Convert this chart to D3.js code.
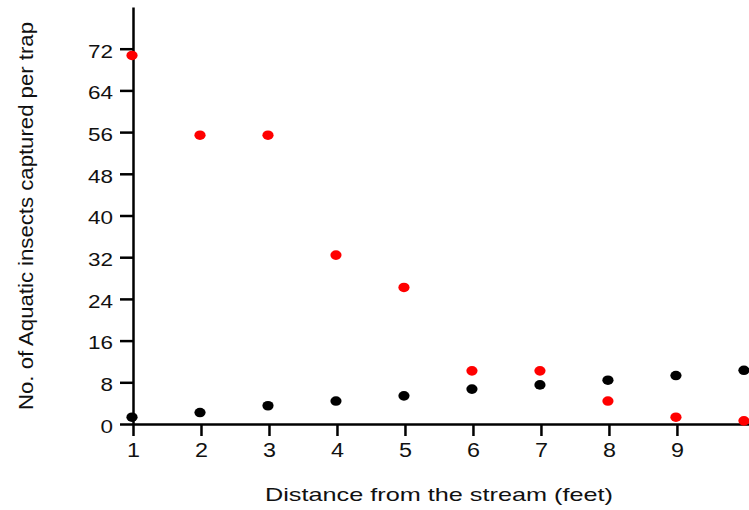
<!DOCTYPE html>
<meta charset="utf-8">
<script src="https://d3js.org/d3.v7.min.js"></script>
<style>
  body { margin: 0; background: #fff; }
  text { font-family: "Liberation Sans", Arial, sans-serif; fill: #111; }
</style>
<div id="chart"></div>
<script>

// distance from the stream (feet)
var distance = [1, 2, 3, 4, 5, 6, 7, 8, 9, 10];
// red series and black series (insects per trap)
var redSeries   = [70.7, 55.4, 55.4, 32.4, 26.2, 10.2, 10.2, 4.4, 1.3, 0.6];
var blackSeries = [1.3, 2.2, 3.5, 4.4, 5.4, 6.7, 7.5, 8.4, 9.3, 10.3];
var yTicks = [0, 8, 16, 24, 32, 40, 48, 56, 64, 72];
var xTicks = [1, 2, 3, 4, 5, 6, 7, 8, 9];

var W = 749, H = 510;
var plotLeft = 133, plotBottom = 424, plotTop = 7;

var svg = d3.select("#chart").append("svg")
    .attr("width", W).attr("height", H);

var x = d3.scaleLinear().domain([1, 10.06]).range([plotLeft, W]);
var y = d3.scaleLinear().domain([0, 80]).range([plotBottom, plotTop]);

// y axis
var gy = svg.append("g")
    .attr("transform", "translate(" + plotLeft + ",0)")
    .call(d3.axisLeft(y).tickValues(yTicks).tickSize(13).tickSizeOuter(0).tickPadding(7));
gy.select(".domain").attr("stroke", "#000").attr("stroke-width", 2.5);
gy.selectAll(".tick line").attr("stroke", "#000").attr("stroke-width", 2.5);
gy.selectAll(".tick text")
    .style("font-size", "18.5px")
    .attr("dy", "0.45em")
    .attr("textLength", function(d) { return String(d).length * 12.5; })
    .attr("lengthAdjust", "spacingAndGlyphs")
    .attr("fill", "#111");

// x axis
var gx = svg.append("g")
    .attr("transform", "translate(0," + plotBottom + ")")
    .call(d3.axisBottom(x).tickValues(xTicks).tickSize(12).tickSizeOuter(0).tickPadding(7));
gx.select(".domain").attr("stroke", "#000").attr("stroke-width", 2.5);
gx.selectAll(".tick line").attr("stroke", "#000").attr("stroke-width", 2.5);
gx.selectAll(".tick text")
    .style("font-size", "19.5px")
    .attr("textLength", 13)
    .attr("lengthAdjust", "spacingAndGlyphs")
    .attr("fill", "#111");

// points
svg.append("g").selectAll("ellipse.black")
  .data(distance)
  .join("ellipse")
    .attr("class", "black")
    .attr("cx", function(d) { return x(d) - 1; })
    .attr("cy", function(d, i) { return y(blackSeries[i]); })
    .attr("rx", 5.6).attr("ry", 4.8)
    .attr("fill", "#000");

svg.append("g").selectAll("ellipse.red")
  .data(distance)
  .join("ellipse")
    .attr("class", "red")
    .attr("cx", function(d) { return x(d) - 1; })
    .attr("cy", function(d, i) { return y(redSeries[i]); })
    .attr("rx", 5.6).attr("ry", 4.8)
    .attr("fill", "#ff0000");

// axis titles
svg.append("text")
    .attr("x", 439).attr("y", 501)
    .attr("text-anchor", "middle")
    .attr("textLength", 348).attr("lengthAdjust", "spacingAndGlyphs")
    .style("font-size", "19px")
    .text("Distance from the stream (feet)");

svg.append("text")
    .attr("transform", "translate(33,216) rotate(-90)")
    .attr("text-anchor", "middle")
    .attr("textLength", 388).attr("lengthAdjust", "spacingAndGlyphs")
    .style("font-size", "21px")
    .text("No. of Aquatic insects captured per trap");

</script>
